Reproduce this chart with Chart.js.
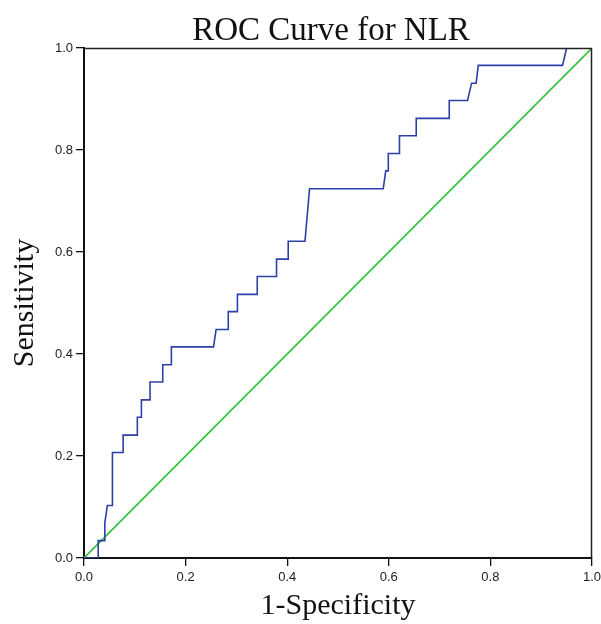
<!DOCTYPE html>
<html>
<head>
<meta charset="utf-8">
<script src="https://cdn.jsdelivr.net/npm/chart.js@4/dist/chart.umd.min.js"></script>
<style>
  html, body { margin: 0; padding: 0; background: #fff; }
  #wrap { width: 601px; height: 624px; }
</style>
</head>
<body>
<div id="wrap"><canvas id="roc" width="601" height="624"></canvas></div>
<script>
// ROC curve vertices (1-specificity, sensitivity)
var rocX = [0, 0.028, 0.028, 0.041, 0.041, 0.046, 0.056, 0.056, 0.077, 0.077,
    0.105, 0.105, 0.113, 0.113, 0.130, 0.130, 0.155, 0.155, 0.172, 0.172,
    0.255, 0.260, 0.284, 0.284, 0.302, 0.302, 0.341, 0.341, 0.379, 0.379,
    0.402, 0.402, 0.435, 0.444, 0.589, 0.594, 0.599, 0.599, 0.621, 0.621,
    0.654, 0.654, 0.719, 0.719, 0.755, 0.763, 0.772, 0.776, 0.942, 0.950, 1.0];
var rocY = [0, 0, 0.034, 0.034, 0.069, 0.103, 0.103, 0.207, 0.207, 0.241,
    0.241, 0.276, 0.276, 0.310, 0.310, 0.345, 0.345, 0.379, 0.379, 0.414,
    0.414, 0.448, 0.448, 0.483, 0.483, 0.517, 0.517, 0.552, 0.552, 0.586,
    0.586, 0.621, 0.621, 0.724, 0.724, 0.759, 0.759, 0.793, 0.793, 0.828,
    0.828, 0.862, 0.862, 0.897, 0.897, 0.931, 0.931, 0.966, 0.966, 1.0, 1.0];
// reference line
var refX = [0, 1];
var refY = [0, 1];
var tickValues = [0, 0.2, 0.4, 0.6, 0.8, 1.0];

function toPoints(xs, ys) {
    return xs.map(function(x, i) { return {x: x, y: ys[i]}; });
}

// title over the plot area and the frame on top and right
var frame = {
    id: 'frame',
    afterDraw: function(chart) {
        var a = chart.chartArea, ctx = chart.ctx;
        ctx.save();
        ctx.strokeStyle = '#222';
        ctx.lineWidth = 1.5;
        ctx.beginPath();
        ctx.moveTo(a.left, a.top + 0.5);
        ctx.lineTo(a.right - 0.5, a.top + 0.5);
        ctx.lineTo(a.right - 0.5, a.bottom);
        ctx.stroke();
        ctx.fillStyle = '#111';
        ctx.font = '33px "Liberation Serif", "Times New Roman", serif';
        ctx.textAlign = 'center';
        ctx.textBaseline = 'alphabetic';
        ctx.fillText('ROC Curve for NLR', 331, 40);
        ctx.restore();
    }
};

var tickFont = {family: '"Liberation Sans", Arial, sans-serif', size: 13};
var titleFont = {family: '"Liberation Serif", "Times New Roman", serif', size: 30};

new Chart(document.getElementById('roc'), {
    type: 'scatter',
    data: {
        datasets: [{
            data: toPoints(rocX, rocY),
            showLine: true,
            borderColor: '#2e40a8',
            borderWidth: 1.6,
            pointRadius: 0,
            tension: 0
        }, {
            data: toPoints(refX, refY),
            showLine: true,
            borderColor: '#2fc23a',
            borderWidth: 1.6,
            pointRadius: 0
        }]
    },
    options: {
        responsive: false,
        animation: false,
        layout: {padding: {top: 48, right: 0, left: 0, bottom: 0}},
        plugins: {legend: {display: false}, tooltip: {enabled: false}},
        scales: {
            x: {
                type: 'linear', min: 0, max: 1,
                afterBuildTicks: function(s) { s.ticks = tickValues.map(function(v) { return {value: v}; }); },
                afterFit: function(s) { s.height = 66; s.paddingRight = 9; },
                ticks: {font: tickFont, color: '#222', padding: 4, maxRotation: 0,
                    callback: function(v) { return v.toFixed(1); }},
                grid: {drawOnChartArea: false, tickLength: 8, color: '#111', lineWidth: 1.3},
                border: {color: '#111', width: 2},
                title: {display: true, text: '1-Specificity', font: titleFont, color: '#111',
                    padding: {top: 0, bottom: 0}}
            },
            y: {
                type: 'linear', min: 0, max: 1,
                afterBuildTicks: function(s) { s.ticks = tickValues.map(function(v) { return {value: v}; }); },
                afterFit: function(s) { s.width = 84; },
                ticks: {font: tickFont, color: '#222', padding: 3,
                    callback: function(v) { return v.toFixed(1); }},
                grid: {drawOnChartArea: false, tickLength: 8, color: '#111', lineWidth: 1.3},
                border: {color: '#111', width: 2},
                title: {display: true, text: 'Sensitivity', font: titleFont, color: '#111',
                    padding: {top: 7, bottom: 0}}
            }
        }
    },
    plugins: [frame]
});
</script>
</body>
</html>
